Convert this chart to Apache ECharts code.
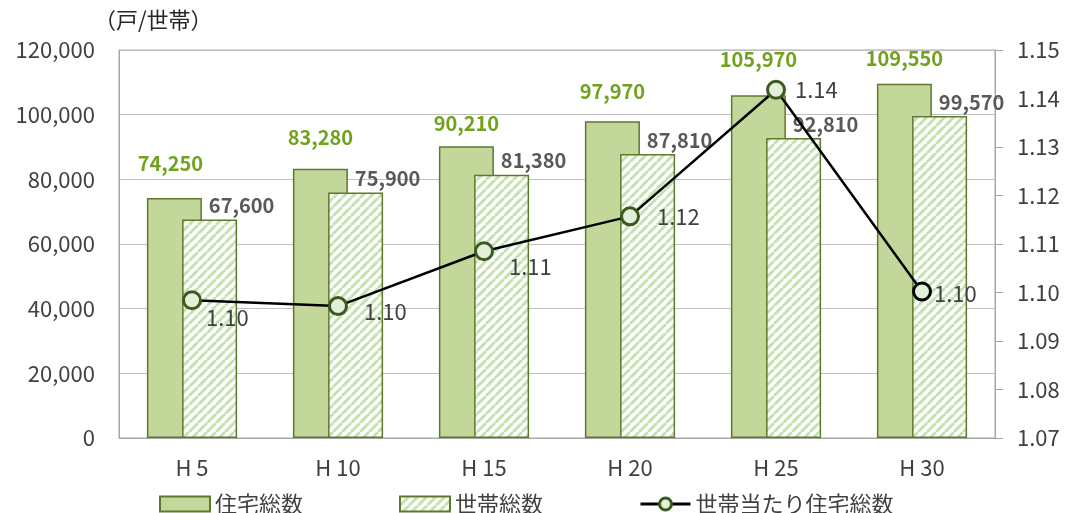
<!DOCTYPE html>
<html>
<head>
<meta charset="utf-8">
<script src="https://cdn.jsdelivr.net/npm/echarts@6/dist/echarts.min.js"></script>
<style>
html,body{margin:0;padding:0;background:#fff;}
#main{width:1067px;height:513px;}
</style>
</head>
<body>
<div id="main"></div>
<script>
// ---- data ----
const categories = ['H 5', 'H 10', 'H 15', 'H 20', 'H 25', 'H 30'];
const housingTotal = [74250, 83280, 90210, 97970, 105970, 109550];
const householdTotal = [67600, 75900, 81380, 87810, 92810, 99570];
const housingPerHousehold = [1.0984, 1.0972, 1.1085, 1.1157, 1.1418, 1.1002];
const leftTicks = [0, 20000, 40000, 60000, 80000, 100000, 120000];
const rightTicks = [1.07, 1.08, 1.09, 1.10, 1.11, 1.12, 1.13, 1.14, 1.15];
const seriesNames = ['住宅総数', '世帯総数', '世帯当たり住宅総数'];
const unitLabel = '（戸/世帯）';

// ---- styles (label nudges) ----
const lineLabelOffsets = [[0, 17], [12, 6], [11, 15], [13, 0], [5, 0], [-2, 2]];
const bar1LabelOffsets = [[-4, -5], [0, -1], [0, 7], [0, 0], [0, -6], [0, 5]];
const FONT = '"Noto Sans CJK JP", "Noto Sans", sans-serif';

// hatch pattern
const T = 9;
const pc = document.createElement('canvas');
pc.width = T; pc.height = T;
const px = pc.getContext('2d');
px.fillStyle = '#ffffff';
px.fillRect(0, 0, T, T);
px.strokeStyle = '#c6e0b0';
px.lineWidth = 3;
for (const o of [-T, 0, T]) {
  px.beginPath();
  px.moveTo(o, T);
  px.lineTo(o + T, 0);
  px.stroke();
}
const hatch = { image: pc, repeat: 'repeat' };

const chart = echarts.init(document.getElementById('main'), null, { renderer: 'canvas' });

const lineData = housingPerHousehold.map((v, i) => ({
  value: v,
  label: { offset: lineLabelOffsets[i] },
  itemStyle: i === 5 ? { borderColor: '#000000' } : undefined
}));
const bar1Data = housingTotal.map((v, i) => ({
  value: v,
  label: { offset: bar1LabelOffsets[i] }
}));

chart.setOption({
  animation: false,
  textStyle: { fontFamily: FONT },
  grid: { left: 119, right: 72, top: 50, bottom: 75, show: true, borderColor: '#a6a6a6', borderWidth: 1 },
  graphic: [{
    type: 'text', left: 94, top: 9,
    style: { text: unitLabel, fontSize: 22, fill: '#262626', fontFamily: FONT }
  }],
  legend: {
    left: 154, top: 488,
    itemWidth: 50, itemHeight: 15, itemGap: 96,
    textStyle: { fontSize: 22, color: '#404040', fontFamily: FONT },
    data: [
      { name: seriesNames[0], icon: 'rect' },
      { name: seriesNames[1], icon: 'rect' },
      { name: seriesNames[2], itemStyle: { borderWidth: 3 }, lineStyle: { width: 3 } }
    ]
  },
  xAxis: {
    type: 'category',
    data: categories,
    axisLine: { show: true, lineStyle: { color: '#a6a6a6', width: 1 } },
    axisTick: { show: false },
    axisLabel: { fontSize: 22, color: '#404040', margin: 19 }
  },
  yAxis: [{
    type: 'value', min: 0, max: 120000, interval: 20000,
    axisLine: { show: true, lineStyle: { color: '#a6a6a6' } },
    axisTick: { show: false },
    splitLine: { show: true, lineStyle: { color: '#bfbfbf', width: 1 } },
    axisLabel: {
      fontSize: 22, color: '#404040', margin: 24,
      formatter: v => leftTicks.includes(v) ? v.toLocaleString('en-US') : ''
    }
  }, {
    type: 'value', min: 1.07, max: 1.15, interval: 0.01,
    position: 'right',
    axisLine: { show: true, lineStyle: { color: '#a6a6a6' } },
    axisTick: { show: true, length: 8, lineStyle: { color: '#a6a6a6' } },
    splitLine: { show: false },
    axisLabel: {
      fontSize: 22, color: '#404040', margin: 22,
      formatter: v => {
        const t = rightTicks.find(r => Math.abs(r - v) < 1e-6);
        return t !== undefined ? t.toFixed(2) : '';
      }
    }
  }],
  series: [{
    name: seriesNames[0],
    type: 'bar',
    data: bar1Data,
    barWidth: 55,
    barGap: '-36%',
    itemStyle: { color: '#c4d79b', borderColor: '#5d7a2c', borderWidth: 1.5 },
    label: {
      show: true, position: 'top', distance: 20,
      fontSize: 20, fontWeight: 'bold', color: '#70a21e',
      formatter: p => p.value.toLocaleString('en-US')
    },
    z: 2
  }, {
    name: seriesNames[1],
    type: 'bar',
    data: householdTotal,
    barWidth: 55,
    itemStyle: { color: hatch, borderColor: '#5d7a2c', borderWidth: 1.5 },
    label: {
      show: true, position: 'top', distance: 4, offset: [32, 0],
      fontSize: 20, fontWeight: 'bold', color: '#595959',
      formatter: p => p.value.toLocaleString('en-US')
    },
    z: 3
  }, {
    name: seriesNames[2],
    type: 'line',
    yAxisIndex: 1,
    data: lineData,
    symbol: 'circle',
    symbolSize: 17,
    lineStyle: { color: '#000000', width: 2.5 },
    itemStyle: { color: '#e2efda', borderColor: '#3a5a1e', borderWidth: 3 },
    label: {
      show: true, position: 'right', distance: 4,
      fontSize: 22, color: '#404040',
      formatter: p => p.value.toFixed(2)
    },
    z: 5
  }]
});
</script>
</body>
</html>
